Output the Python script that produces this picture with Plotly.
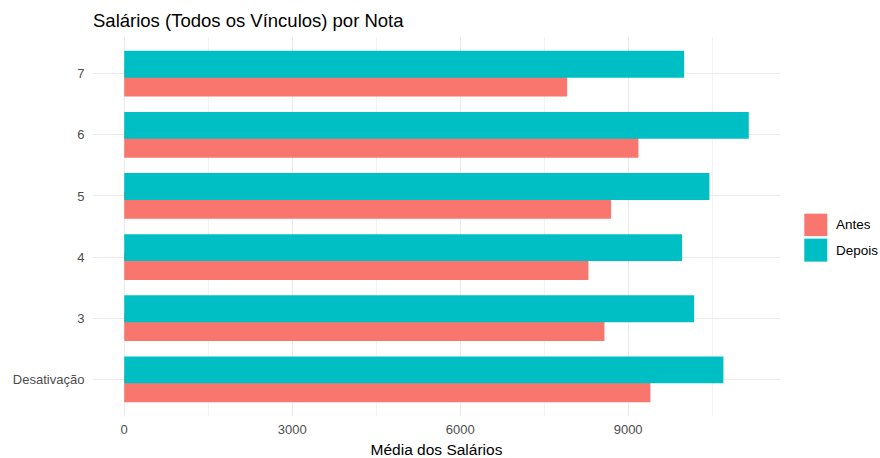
import plotly.graph_objects as go

categories = ["Desativação", "3", "4", "5", "6", "7"]
antes = [9398, 8577, 8291, 8696, 9184, 7911]
depois = [10702, 10179, 9964, 10452, 11155, 10000]
series_names = ["Antes", "Depois"]
colors = ["#F8766D", "#00BFC4"]
x_ticks = [0, 3000, 6000, 9000]

W, H = 880, 458
L, R, T, B = 93, 780, 36.6, 415.7
FONT = "Liberation Sans, Arial, sans-serif"

def px2paper_x(px):
    return (px - L) / (R - L)

def px2paper_y(py):
    return (B - py) / (B - T)

bar_w = 0.44
dodge = 0.155

fig = go.Figure()
fig.add_trace(go.Bar(y=categories, x=antes, orientation="h", name=series_names[0],
                     marker=dict(color=colors[0], line=dict(width=0)),
                     width=bar_w, offset=-dodge - bar_w / 2, showlegend=False))
fig.add_trace(go.Bar(y=categories, x=depois, orientation="h", name=series_names[1],
                     marker=dict(color=colors[1], line=dict(width=0)),
                     width=bar_w, offset=dodge - bar_w / 2, showlegend=False))

xmax = max(max(antes), max(depois))
pad = xmax * 0.05

fig.update_layout(
    width=W, height=H, autosize=False,
    margin=dict(l=L, r=W - R, t=T, b=H - B, pad=0),
    barmode="overlay",
    plot_bgcolor="white", paper_bgcolor="white",
    font=dict(family=FONT, size=13, color="#4D4D4D"),
    title=dict(text="Salários (Todos os Vínculos) por Nota", x=93 / W, xref="container",
               xanchor="left", y=1 - 20.7 / H, yref="container", yanchor="middle",
               font=dict(family=FONT, size=18.5, color="black")),
    xaxis=dict(range=[-pad, xmax + pad], tickmode="array", tickvals=x_ticks,
               ticktext=[str(v) for v in x_ticks], automargin=False,
               showgrid=True, gridcolor="#EBEBEB", gridwidth=1,
               minor=dict(dtick=1500, tick0=0, showgrid=True, gridcolor="#F2F2F2", gridwidth=1),
               zeroline=False, showline=False,
               ticks="outside", ticklen=1, tickcolor="rgba(0,0,0,0)",
               tickfont=dict(family=FONT, size=13, color="#4D4D4D"),
               title=dict(text="Média dos Salários", standoff=8,
                          font=dict(family=FONT, size=15.5, color="black"))),
    yaxis=dict(type="category", categoryorder="array", categoryarray=categories,
               range=[-0.6, len(categories) - 0.4], automargin=False,
               showgrid=True, gridcolor="#EBEBEB", gridwidth=1,
               zeroline=False, showline=False,
               ticks="outside", ticklen=5, tickcolor="rgba(0,0,0,0)",
               tickfont=dict(family=FONT, size=13, color="#4D4D4D")),
)

# legend (ggplot-style keys)
key_x0, key_x1 = 804.3, 827.3
key_rows = [(213.3, 235.7), (238.3, 261.3)]
for (y0, y1), name, col in zip(key_rows, series_names, colors):
    fig.add_shape(type="rect", xref="paper", yref="paper",
                  x0=px2paper_x(key_x0), x1=px2paper_x(key_x1),
                  y0=px2paper_y(y1), y1=px2paper_y(y0),
                  fillcolor=col, line=dict(width=0))
    fig.add_annotation(xref="paper", yref="paper", x=px2paper_x(834), y=px2paper_y((y0 + y1) / 2),
                       text=name, showarrow=False, xanchor="left", yanchor="middle",
                       font=dict(family=FONT, size=13.5, color="black"))

fig.write_html("out.html", config={"displayModeBar": False},
               post_script="document.body.style.margin='0px';")
